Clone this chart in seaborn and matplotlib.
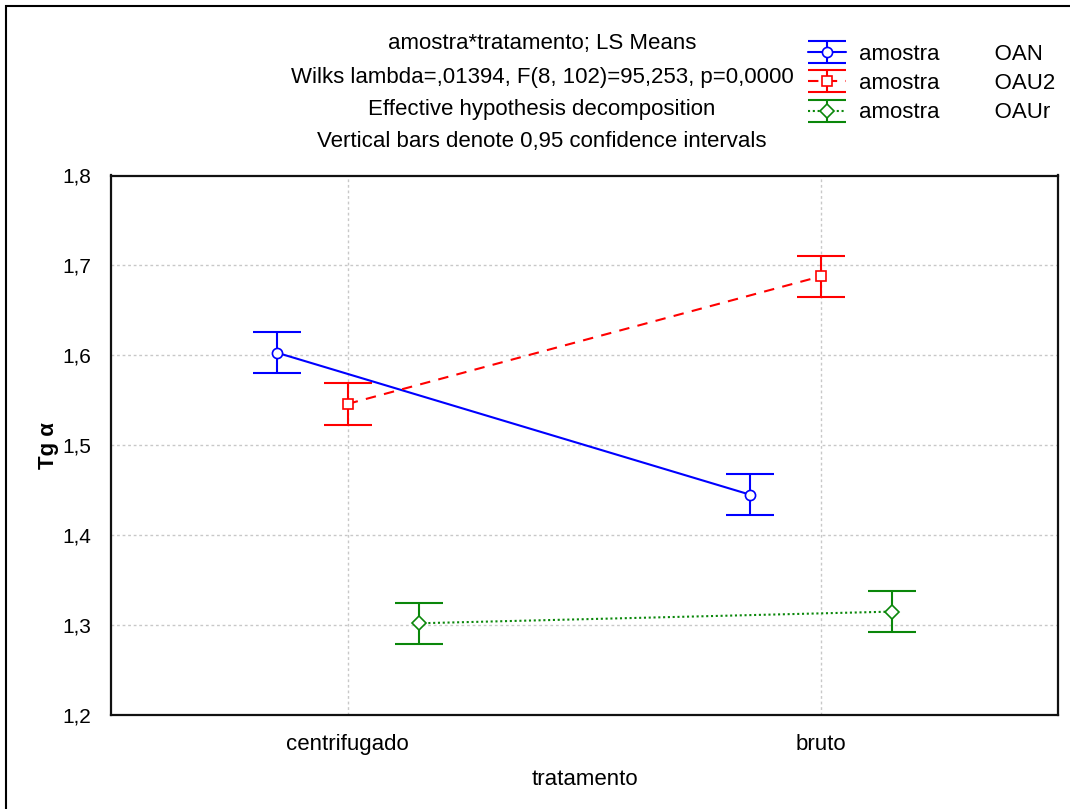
import numpy as np
import pandas as pd
import matplotlib
matplotlib.use("Agg")
import matplotlib.pyplot as plt
import seaborn as sns
from matplotlib.lines import Line2D
from matplotlib.collections import LineCollection
from matplotlib.container import ErrorbarContainer
from matplotlib.patches import Rectangle

# ---------------- data ----------------
tratamento = ["centrifugado", "bruto"]
amostras = ["OAN", "OAU2", "OAUr"]
oan = [1.603, 1.445]
oau2 = [1.546, 1.688]
oaur = [1.302, 1.315]
ci_oan = [0.023, 0.023]
ci_oau2 = [0.023, 0.023]
ci_oaur = [0.023, 0.023]
yticks = [1.2, 1.3, 1.4, 1.5, 1.6, 1.7, 1.8]
ytick_labels = ["1,2", "1,3", "1,4", "1,5", "1,6", "1,7", "1,8"]
title_lines = [
    "amostra*tratamento; LS Means",
    "Wilks lambda=,01394, F(8, 102)=95,253, p=0,0000",
    "Effective hypothesis decomposition",
    "Vertical bars denote 0,95 confidence intervals",
]
x_label = "tratamento"
y_label = "Tg α"
legend_prefix = "amostra"

# ---------------- style ----------------
colors = ["#0000ff", "#ff0000", "#0a870a"]
markers = ["o", "s", "D"]
linestyles = ["-", (0, (5, 4)), (0, (1, 1.3))]

sns.set_style("white")
plt.rcParams["font.family"] = ["Liberation Sans", "DejaVu Sans"]
plt.rcParams["text.color"] = "black"
plt.rcParams["axes.labelcolor"] = "black"
plt.rcParams["xtick.color"] = "black"
plt.rcParams["ytick.color"] = "black"

df = pd.DataFrame({
    "tratamento": tratamento * 3,
    "amostra": [a for a in amostras for _ in tratamento],
    "Tg": oan + oau2 + oaur,
})

fig = plt.figure(figsize=(10.70, 8.09), dpi=100)
ax = fig.add_axes([111 / 1070, 1 - 715 / 809, (1058 - 111) / 1070, (715 - 175.5) / 809])

sns.pointplot(
    data=df, x="tratamento", y="Tg", hue="amostra",
    order=tratamento, hue_order=amostras, palette=colors,
    markers=markers, linestyles=linestyles, dodge=0.3,
    errorbar=None, legend=False, ax=ax,
    linewidth=1.5, markersize=7.3, markerfacecolor="white", markeredgewidth=1.2,
)

series_lines = list(ax.lines[:3])
ci_list = [ci_oan, ci_oau2, ci_oaur]
for line, ci, c in zip(series_lines, ci_list, colors):
    ax.errorbar(line.get_xdata(), line.get_ydata(), yerr=ci, fmt="none",
                ecolor=c, elinewidth=1.5, capsize=17, capthick=1.5, zorder=1.9)

ax.set_xlim(-0.5, 1.5)
ax.set_ylim(1.2, 1.8)
ax.set_yticks(yticks)
ax.set_yticklabels(ytick_labels)
ax.grid(True, color="#c8c8c8", linestyle=(0, (2, 2)), linewidth=1.0)
ax.set_axisbelow(True)
for s in ax.spines.values():
    s.set_visible(True)
    s.set_color("#111111")
    s.set_linewidth(1.6)

ax.tick_params(axis="x", direction="in", length=3, width=1.5, labelsize=16, pad=14)
ax.tick_params(axis="y", length=0, labelsize=15, pad=14)
ax.set_xlabel(x_label, fontsize=16, labelpad=10)
ax.set_ylabel(y_label, fontsize=16, fontweight="bold", labelpad=3)

# titles
ys = [43, 78, 109, 142]
for t, y in zip(title_lines, ys):
    fig.text(542 / 1070, 1 - y / 809, t, ha="center", va="center", fontsize=16)

# legend with errorbar-styled handles
handles = []
for c, m, ls in zip(colors, markers, linestyles):
    pl = Line2D([], [], color=c, marker=m, linestyle=ls, lw=1.5, markersize=7.3,
                markerfacecolor="white", markeredgewidth=1.2)
    cap = Line2D([], [], color=c, marker="_", markersize=27, markeredgewidth=1.5, linestyle="none")
    bars = LineCollection([], colors=c, linewidths=1.5)
    handles.append(ErrorbarContainer((pl, (cap, cap), (bars,)), has_xerr=False, has_yerr=True))
labels = [f"{legend_prefix}{' ' * 9}{a}" for a in amostras]
fig.legend(handles, labels, loc="upper left", bbox_to_anchor=(808 / 1070, 1 - 43.5 / 809),
           frameon=False, fontsize=16, handlelength=1.7, handletextpad=0.6,
           borderpad=0, borderaxespad=0, labelspacing=0.38, numpoints=1)

# outer figure frame
fig.add_artist(Rectangle((6 / 1070, -0.1), 1.2, 1.1 - 6 / 809, transform=fig.transFigure,
                         fill=False, edgecolor="black", linewidth=1.5, clip_on=False))

fig.savefig("out.png", dpi=100)
